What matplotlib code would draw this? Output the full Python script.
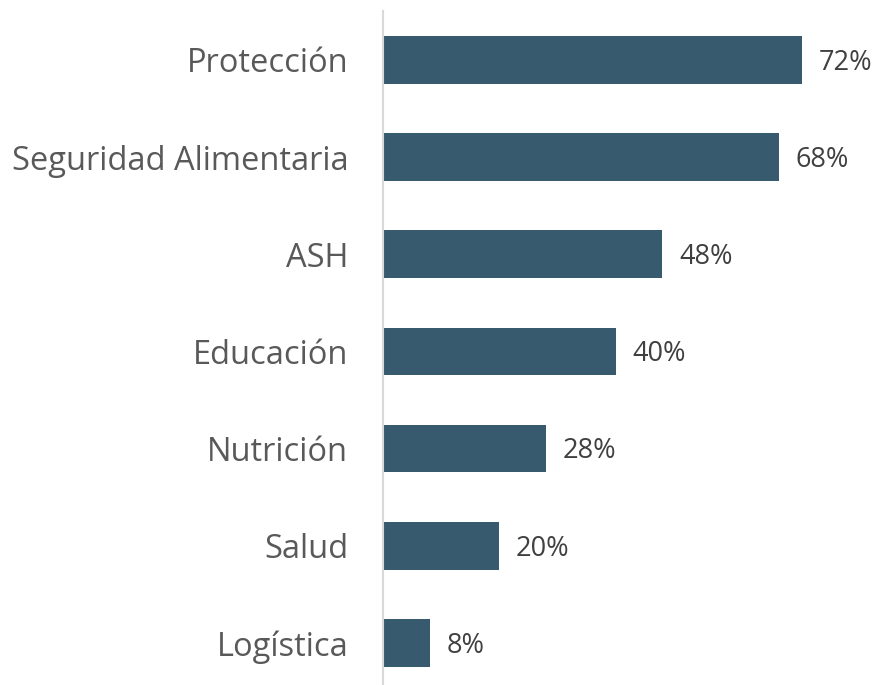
import matplotlib
matplotlib.use('Agg')
import matplotlib.pyplot as plt

categories = ['Protección', 'Seguridad Alimentaria', 'ASH', 'Educación',
              'Nutrición', 'Salud', 'Logística']
values = [72, 68, 48, 40, 28, 20, 8]
value_labels = ['72%', '68%', '48%', '40%', '28%', '20%', '8%']

bar_color = '#375a6f'
plt.rcParams['font.family'] = ['Open Sans', 'DejaVu Sans']

fig = plt.figure(figsize=(8.77, 6.85), dpi=100)
# axes: left edge at the vertical line, extends slightly past the bottom
ax = fig.add_axes([383 / 877, -0.0096, (877 - 383) / 877, 0.9930])

pos = list(range(len(categories)))
ax.barh(pos, values, height=0.49, color=bar_color)
ax.set_ylim(len(categories) - 0.5, -0.5)
ax.set_xlim(0, 84.9)

for p, v, lab in zip(pos, values, value_labels):
    ax.annotate(lab, (v, p), xytext=(12, -2), textcoords='offset points',
                va='center', ha='left', fontsize=19.5, color='#404040')

ax.set_yticks(pos)
ax.set_yticklabels(categories, fontsize=23.5, color='#595959')
ax.tick_params(axis='y', length=0, pad=25)
ax.set_xticks([])

for s in ['top', 'right', 'bottom']:
    ax.spines[s].set_visible(False)
ax.spines['left'].set_color('#d9d9d9')
ax.spines['left'].set_linewidth(1.5)

fig.savefig('out.png', dpi=100)
